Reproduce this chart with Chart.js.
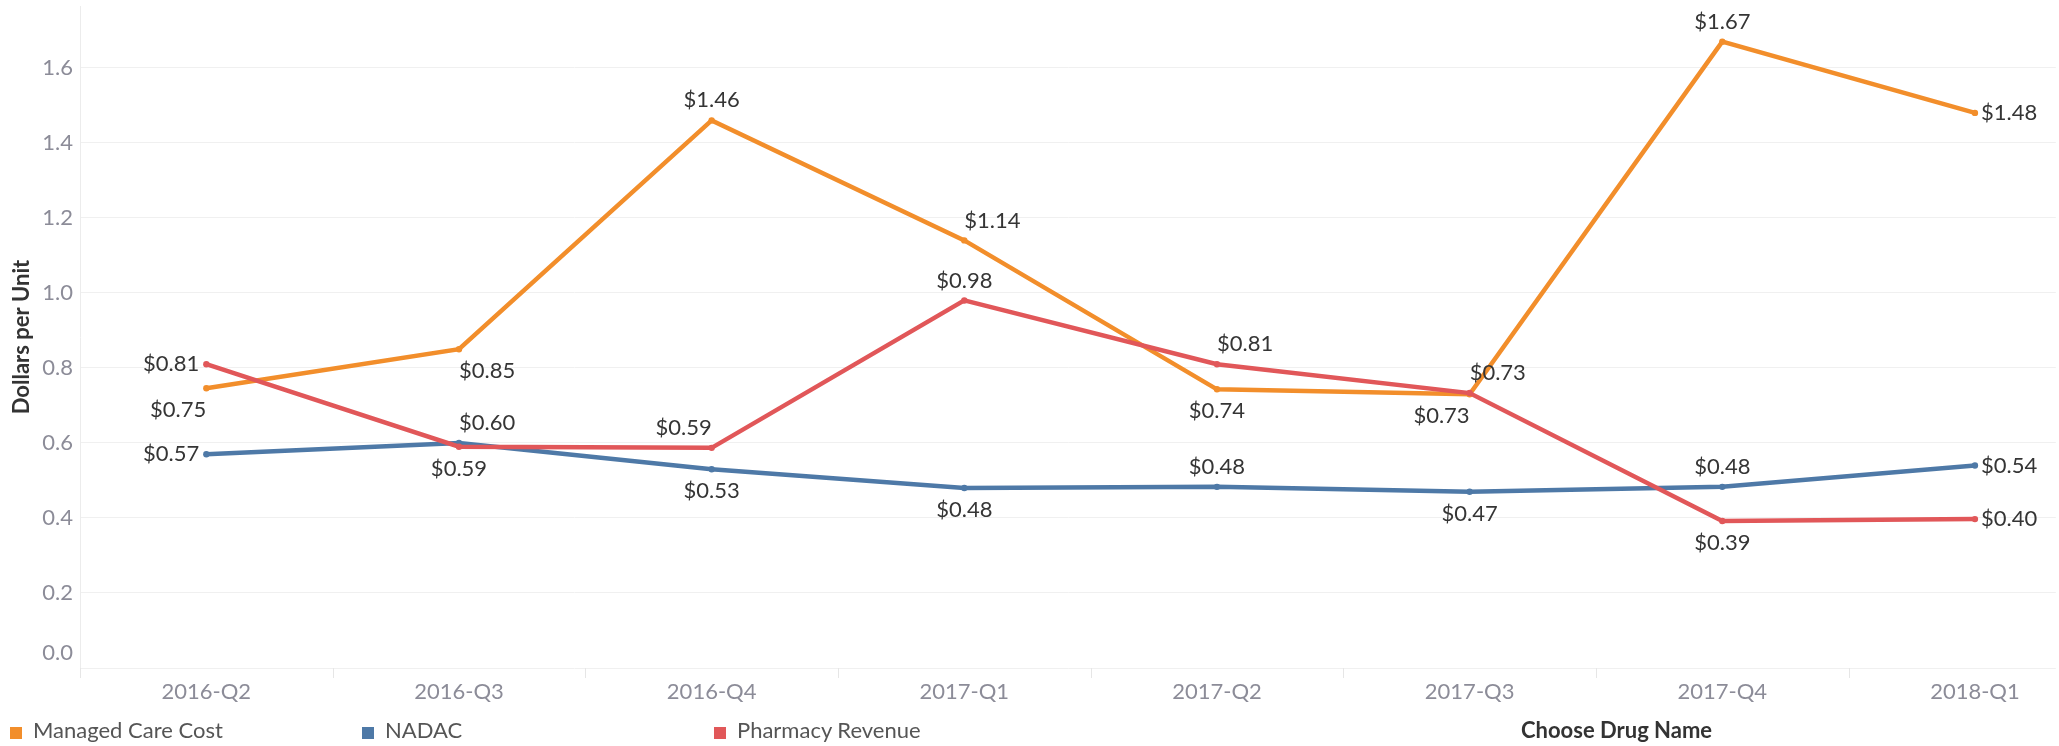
<!DOCTYPE html>
<html>
<head>
<meta charset="utf-8">
<title>Dollars per Unit by Quarter</title>
<script src="https://cdn.jsdelivr.net/npm/chart.js@4.4.1/dist/chart.umd.min.js"></script>
<style>
    html, body { margin: 0; padding: 0; background: #fff; }
    #wrap { position: relative; width: 2059px; height: 746px; overflow: hidden; }
    #chart { position: absolute; left: 0; top: 0; }
    .legend-item {
        position: absolute;
        top: 716px;
        height: 28px;
        line-height: 28px;
        font: 22px Lato, "Open Sans", sans-serif;
        color: #555;
        white-space: nowrap;
    }
    .swatch {
        display: inline-block;
        width: 12px;
        height: 12px;
        margin-right: 11px;
        vertical-align: -1px;
    }
    #filterTitle {
        position: absolute;
        left: 1521px;
        top: 716px;
        line-height: 28px;
        font: bold 22px Lato, "Open Sans", sans-serif;
        color: #333;
        white-space: nowrap;
    }
</style>
</head>
<body>
<div id="wrap">
    <canvas id="chart" width="2059" height="746"></canvas>
    <div id="legend"></div>
    <div id="filterTitle">Choose Drug Name</div>
</div>
<script>
// Data
const quarters = ['2016-Q2', '2016-Q3', '2016-Q4', '2017-Q1', '2017-Q2', '2017-Q3', '2017-Q4', '2018-Q1'];
const managedCareCost = [0.746, 0.85, 1.46, 1.14, 0.743, 0.73, 1.67, 1.48];
const nadac = [0.57, 0.60, 0.53, 0.48, 0.483, 0.47, 0.483, 0.54];
const pharmacyRevenue = [0.81, 0.59, 0.587, 0.98, 0.81, 0.733, 0.392, 0.397];
const yTicks = [0, 0.2, 0.4, 0.6, 0.8, 1.0, 1.2, 1.4, 1.6];

const COLORS = {
    managed: '#F28E2B',
    nadac: '#4E79A7',
    pharmacy: '#E15759'
};

const toPoints = values => values.map((v, i) => ({ x: i, y: v }));

// where each value label sits relative to its point
const placements = {
    managed: ['belowLeft', 'belowRight', 'above', 'aboveRight', 'below', 'belowLeft', 'above', 'right'],
    nadac: ['left', 'aboveRight', 'below', 'below', 'above', 'below', 'above', 'right'],
    pharmacy: ['left', 'below', 'aboveLeft', 'above', 'aboveRight', 'aboveRight', 'below', 'right']
};

function makeDataset(label, key, values, order) {
    return {
        label,
        data: toPoints(values),
        borderColor: COLORS[key],
        backgroundColor: COLORS[key],
        borderWidth: 4.5,
        pointRadius: 3.2,
        pointBorderWidth: 0,
        pointHoverRadius: 3.2,
        tension: 0,
        order,
        placements: placements[key]
    };
}

const FONT = 'Lato, "Open Sans", sans-serif';
const TICK_COLOR = '#8c8c98';

const valueLabels = {
    id: 'valueLabels',
    afterDatasetsDraw(chart) {
        const ctx = chart.ctx;
        ctx.save();
        ctx.font = '22px ' + FONT;
        ctx.fillStyle = '#353535';
        ctx.textBaseline = 'middle';
        chart.data.datasets.forEach((ds, di) => {
            const meta = chart.getDatasetMeta(di);
            meta.data.forEach((pt, i) => {
                const text = '$' + ds.data[i].y.toFixed(2);
                const where = ds.placements[i];
                let x = pt.x, y = pt.y;
                let align = 'center';
                if (where === 'left') { x -= 7; align = 'right'; }
                else if (where === 'right') { x += 6; align = 'left'; }
                else {
                    y += where.startsWith('above') ? -20 : 22;
                    if (where.endsWith('Right')) align = 'left';
                    else if (where.endsWith('Left')) align = 'right';
                }
                ctx.textAlign = align;
                ctx.fillText(text, x, y);
            });
        });
        ctx.restore();
    }
};

// tick marks between quarter headers, and the raised "0.0" label Tableau uses
const axisExtras = {
    id: 'axisExtras',
    afterDraw(chart) {
        const xs = chart.scales.x;
        const ys = chart.scales.y;
        const bottom = chart.chartArea.bottom;
        const ctx = chart.ctx;
        ctx.save();
        ctx.strokeStyle = '#e6e6e6';
        ctx.lineWidth = 1;
        for (let i = 0; i < quarters.length; i++) {
            const px = Math.round(xs.getPixelForValue(i - 0.5)) + 0.5;
            ctx.beginPath();
            ctx.moveTo(px, bottom);
            ctx.lineTo(px, bottom + 10);
            ctx.stroke();
        }
        ctx.font = '22px ' + FONT;
        ctx.fillStyle = TICK_COLOR;
        ctx.textAlign = 'right';
        ctx.textBaseline = 'middle';
        ctx.fillText((0).toFixed(1), chart.chartArea.left - 7, ys.getPixelForValue(0) - 15);
        ctx.restore();
    }
};

const tickFont = { family: FONT, size: 22 };

const chart = new Chart(document.getElementById('chart'), {
    type: 'line',
    data: {
        datasets: [
            makeDataset('Managed Care Cost', 'managed', managedCareCost, 2),
            makeDataset('NADAC', 'nadac', nadac, 1),
            makeDataset('Pharmacy Revenue', 'pharmacy', pharmacyRevenue, 0)
        ]
    },
    options: {
        responsive: false,
        animation: false,
        devicePixelRatio: 1,
        layout: { padding: { top: 6, right: 0, bottom: 38, left: 0 } },
        plugins: {
            legend: { display: false },
            tooltip: { enabled: false }
        },
        scales: {
            x: {
                type: 'linear',
                min: -0.5,
                max: 7.32,
                afterBuildTicks: s => { s.ticks = quarters.map((q, i) => ({ value: i })); },
                afterFit: s => { s.height = 40; s.paddingLeft = 0; s.paddingRight = 0; },
                grid: { display: false, drawTicks: false },
                border: { display: false },
                ticks: {
                    autoSkip: false,
                    maxRotation: 0,
                    padding: 11,
                    color: TICK_COLOR,
                    font: tickFont,
                    callback: v => quarters[v] ?? ''
                }
            },
            y: {
                min: 0,
                max: 1.765,
                afterBuildTicks: s => { s.ticks = yTicks.map(v => ({ value: v })); },
                afterFit: s => { s.width = 80; s.paddingTop = 0; s.paddingBottom = 0; },
                grid: { color: '#f0f0f0', drawTicks: false },
                border: { display: true, color: '#ececec' },
                ticks: {
                    padding: 7,
                    color: TICK_COLOR,
                    font: tickFont,
                    callback: v => (v === 0 ? '' : v.toFixed(1))
                },
                title: {
                    display: true,
                    text: 'Dollars per Unit',
                    color: '#333',
                    font: { family: FONT, size: 22, weight: 'bold' },
                    padding: { top: 9, bottom: 0 }
                }
            }
        }
    },
    plugins: [valueLabels, axisExtras]
});

// bottom legend, laid out like the original's fixed-width slots
const legendEl = document.getElementById('legend');
[['Managed Care Cost', COLORS.managed, 10], ['NADAC', COLORS.nadac, 362], ['Pharmacy Revenue', COLORS.pharmacy, 714]]
    .forEach(([name, color, left]) => {
        const item = document.createElement('div');
        item.className = 'legend-item';
        item.style.left = left + 'px';
        item.innerHTML = `<span class="swatch" style="background:${color}"></span>${name}`;
        legendEl.appendChild(item);
    });
</script>
</body>
</html>
